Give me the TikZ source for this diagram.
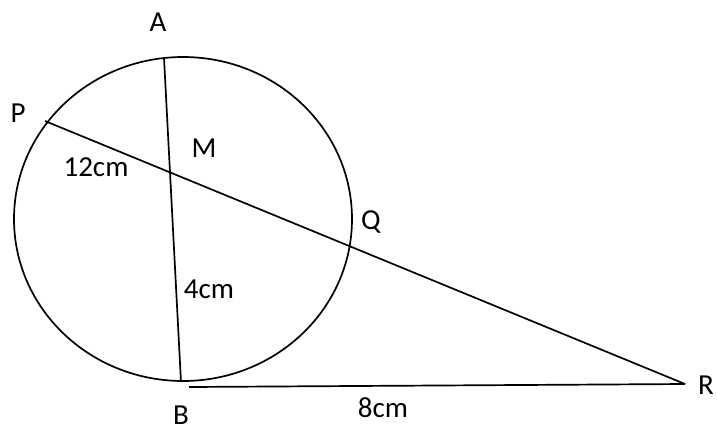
\documentclass[tikz,border=0pt]{standalone}
\usepackage{fontspec}
\setmainfont{Carlito}
\usetikzlibrary{positioning}

\begin{document}
\begin{tikzpicture}[x=1pt, y=-1pt, line width=1.7pt,
  lbl/.style={font=\fontsize{29}{32}\selectfont, inner sep=0pt}]
  \useasboundingbox (0,0) rectangle (717,432);

  % circle
  \coordinate (O) at (183,219);
  \draw (O) ellipse [x radius=169, y radius=162];

  % points on the figure
  \coordinate (A) at (164,58);
  \coordinate (B) at (181,382);
  \coordinate (P) at (45,121);
  \coordinate (R) at (685,384);
  \coordinate (B2) at (189,387);

  % chords and tangent
  \draw (A) -- (B);
  \draw (P) -- (R);
  \draw (B2) -- (R);

  % labels
  \node[lbl] (lA) at (158,22) {A};
  \node[lbl] (lP) at (18,113) {P};
  \node[lbl] (lM) at (204,148) {M};
  \node[lbl] (lPM) at (96,167) {12cm};
  \node[lbl] (lQ) at (371,222) {Q};
  \node[lbl] (lMB) at (209,289) {4cm};
  \node[lbl] (lB) at (181,415) {B};
  \node[lbl] (lBR) at (383,408) {8cm};
  \node[lbl] (lR) at (706,385) {R};
\end{tikzpicture}
\end{document}
